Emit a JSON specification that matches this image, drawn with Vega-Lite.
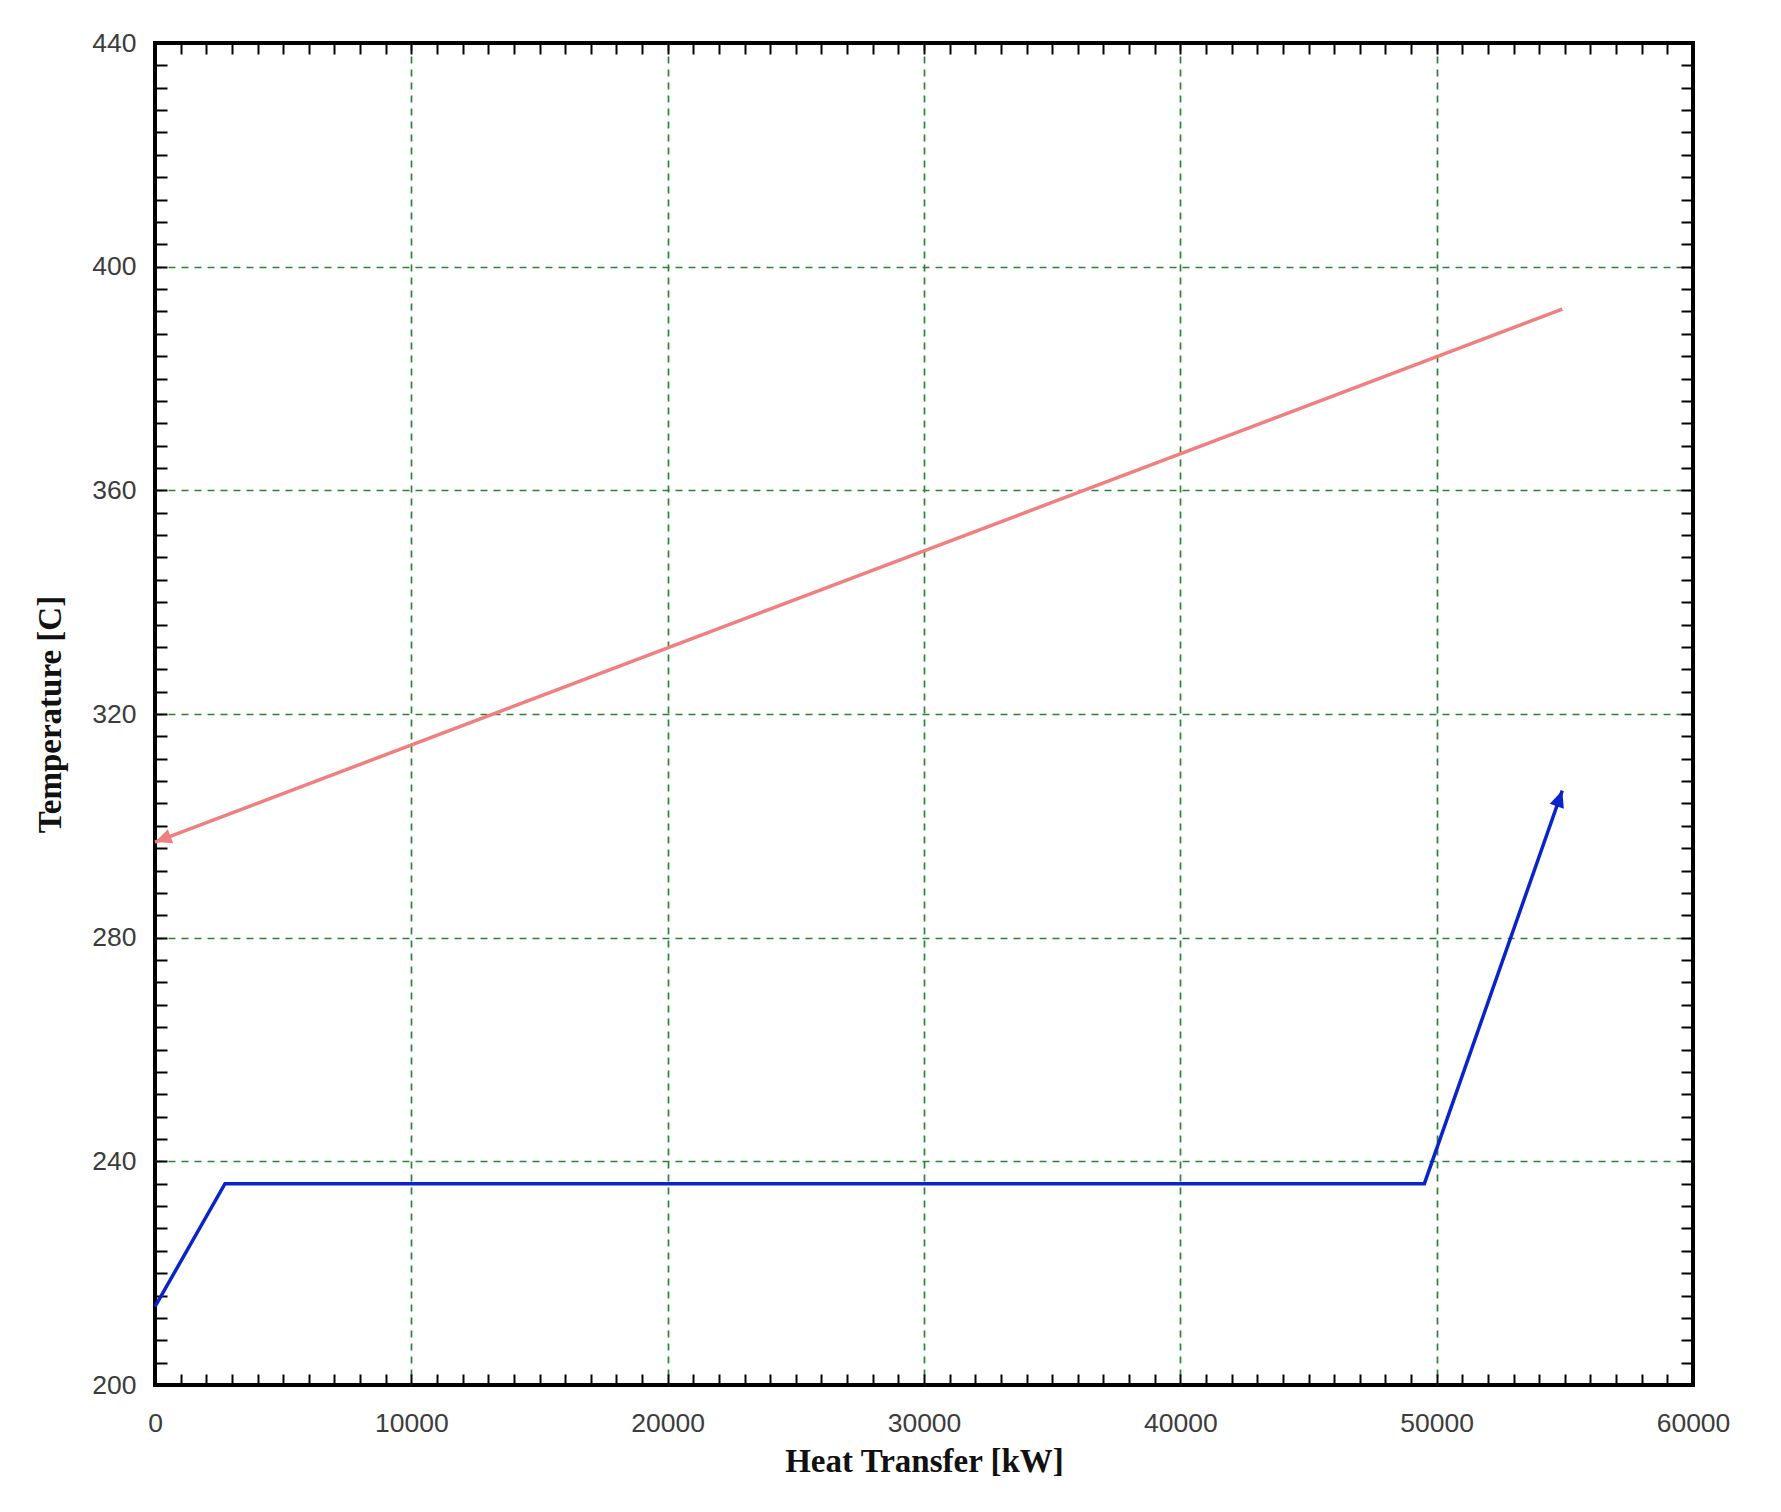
{
  "$schema": "https://vega.github.io/schema/vega-lite/v6.json",
  "width": 1538,
  "height": 1342,
  "autosize": {"type": "none"},
  "padding": {"left": 155, "top": 43, "right": 88, "bottom": 127},
  "background": "white",
  "config": {
    "view": {"stroke": "black", "strokeWidth": 4},
    "axis": {
      "labelFont": "Liberation Sans",
      "labelFontSize": 26.5,
      "labelColor": "#3c3c3c",
      "titleFont": "Liberation Serif",
      "titleFontSize": 33,
      "titleFontWeight": "bold",
      "titleColor": "#111111",
      "domain": false
    }
  },
  "data": {
    "values": [
      {"series": "Hot", "order": 1, "q": 0, "t": 297.1},
      {"series": "Hot", "order": 2, "q": 54900, "t": 392.4},
      {"series": "Cold", "order": 1, "q": 0, "t": 214.0},
      {"series": "Cold", "order": 2, "q": 2730, "t": 236.0},
      {"series": "Cold", "order": 3, "q": 49520, "t": 236.0},
      {"series": "Cold", "order": 4, "q": 54900, "t": 306.3}
    ]
  },
  "resolve": {"axis": {"x": "independent", "y": "independent"}},
  "layer": [
    {
      "mark": {"type": "point", "opacity": 0},
      "encoding": {
        "x": {
          "field": "q", "type": "quantitative",
          "scale": {"domain": [0, 60000], "nice": false, "zero": false},
          "axis": {
            "orient": "bottom", "title": null, "labels": false, "ticks": false,
            "values": [10000, 20000, 30000, 40000, 50000],
            "grid": true, "gridColor": "#2a8438", "gridDash": [7, 6], "gridWidth": 1.7
          }
        },
        "y": {
          "field": "t", "type": "quantitative",
          "scale": {"domain": [200, 440], "nice": false, "zero": false},
          "axis": {
            "orient": "left", "title": null, "labels": false, "ticks": false,
            "values": [240, 280, 320, 360, 400],
            "grid": true, "gridColor": "#2a8438", "gridDash": [7, 6], "gridWidth": 1.7
          }
        }
      }
    },
    {
      "mark": {"type": "line", "strokeWidth": 3.5},
      "encoding": {
        "x": {
          "field": "q", "type": "quantitative",
          "axis": {
            "orient": "bottom", "title": "Heat Transfer [kW]",
            "values": [0, 10000, 20000, 30000, 40000, 50000, 60000],
            "format": "d", "ticks": false, "tickSize": 0, "labelPadding": 25,
            "grid": false,
            "labelFlush": false, "labelOverlap": false, "titlePadding": 9
          }
        },
        "y": {
          "field": "t", "type": "quantitative",
          "axis": {
            "orient": "left", "title": "Temperature [C]",
            "values": [200, 240, 280, 320, 360, 400, 440],
            "ticks": false, "tickSize": 0, "labelPadding": 19,
            "grid": false,
            "labelFlush": false, "labelOverlap": false, "titlePadding": 24
          }
        },
        "color": {
          "field": "series", "type": "nominal",
          "scale": {"domain": ["Hot", "Cold"], "range": ["#f07f80", "#0a24c8"]},
          "legend": null
        },
        "order": {"field": "order", "type": "quantitative"}
      }
    },
    {
      "transform": [{"filter": "datum.series == 'Cold' && datum.order == 4"}],
      "mark": {"type": "point", "shape": "M0,0L-0.45,1L0.45,1Z", "filled": true, "opacity": 1, "size": 1100, "angle": 19.3, "color": "#0a24c8"},
      "encoding": {
        "x": {
          "field": "q", "type": "quantitative",
          "axis": {
            "orient": "bottom", "title": null, "labels": false, "grid": false,
            "values": [0,1000,2000,3000,4000,5000,6000,7000,8000,9000,10000,11000,12000,13000,14000,15000,16000,17000,18000,19000,20000,21000,22000,23000,24000,25000,26000,27000,28000,29000,30000,31000,32000,33000,34000,35000,36000,37000,38000,39000,40000,41000,42000,43000,44000,45000,46000,47000,48000,49000,50000,51000,52000,53000,54000,55000,56000,57000,58000,59000,60000],
            "tickSize": -11, "tickWidth": 2, "tickColor": "black"
          }
        },
        "y": {
          "field": "t", "type": "quantitative",
          "axis": {
            "orient": "left", "title": null, "labels": false, "grid": false,
            "values": [200,204,208,212,216,220,224,228,232,236,240,244,248,252,256,260,264,268,272,276,280,284,288,292,296,300,304,308,312,316,320,324,328,332,336,340,344,348,352,356,360,364,368,372,376,380,384,388,392,396,400,404,408,412,416,420,424,428,432,436,440],
            "tickSize": -12, "tickWidth": 2, "tickColor": "black"
          }
        }
      }
    },
    {
      "transform": [{"filter": "datum.series == 'Hot' && datum.order == 1"}],
      "mark": {"type": "point", "shape": "M0,0L-0.45,1L0.45,1Z", "filled": true, "opacity": 1, "size": 1100, "angle": 249.3, "color": "#f07f80"},
      "encoding": {
        "x": {
          "field": "q", "type": "quantitative",
          "axis": {
            "orient": "top", "title": null, "labels": false, "grid": false,
            "values": [0,1000,2000,3000,4000,5000,6000,7000,8000,9000,10000,11000,12000,13000,14000,15000,16000,17000,18000,19000,20000,21000,22000,23000,24000,25000,26000,27000,28000,29000,30000,31000,32000,33000,34000,35000,36000,37000,38000,39000,40000,41000,42000,43000,44000,45000,46000,47000,48000,49000,50000,51000,52000,53000,54000,55000,56000,57000,58000,59000,60000],
            "tickSize": -11, "tickWidth": 2, "tickColor": "black"
          }
        },
        "y": {
          "field": "t", "type": "quantitative",
          "axis": {
            "orient": "right", "title": null, "labels": false, "grid": false,
            "values": [200,204,208,212,216,220,224,228,232,236,240,244,248,252,256,260,264,268,272,276,280,284,288,292,296,300,304,308,312,316,320,324,328,332,336,340,344,348,352,356,360,364,368,372,376,380,384,388,392,396,400,404,408,412,416,420,424,428,432,436,440],
            "tickSize": -12, "tickWidth": 2, "tickColor": "black"
          }
        }
      }
    }
  ]
}
